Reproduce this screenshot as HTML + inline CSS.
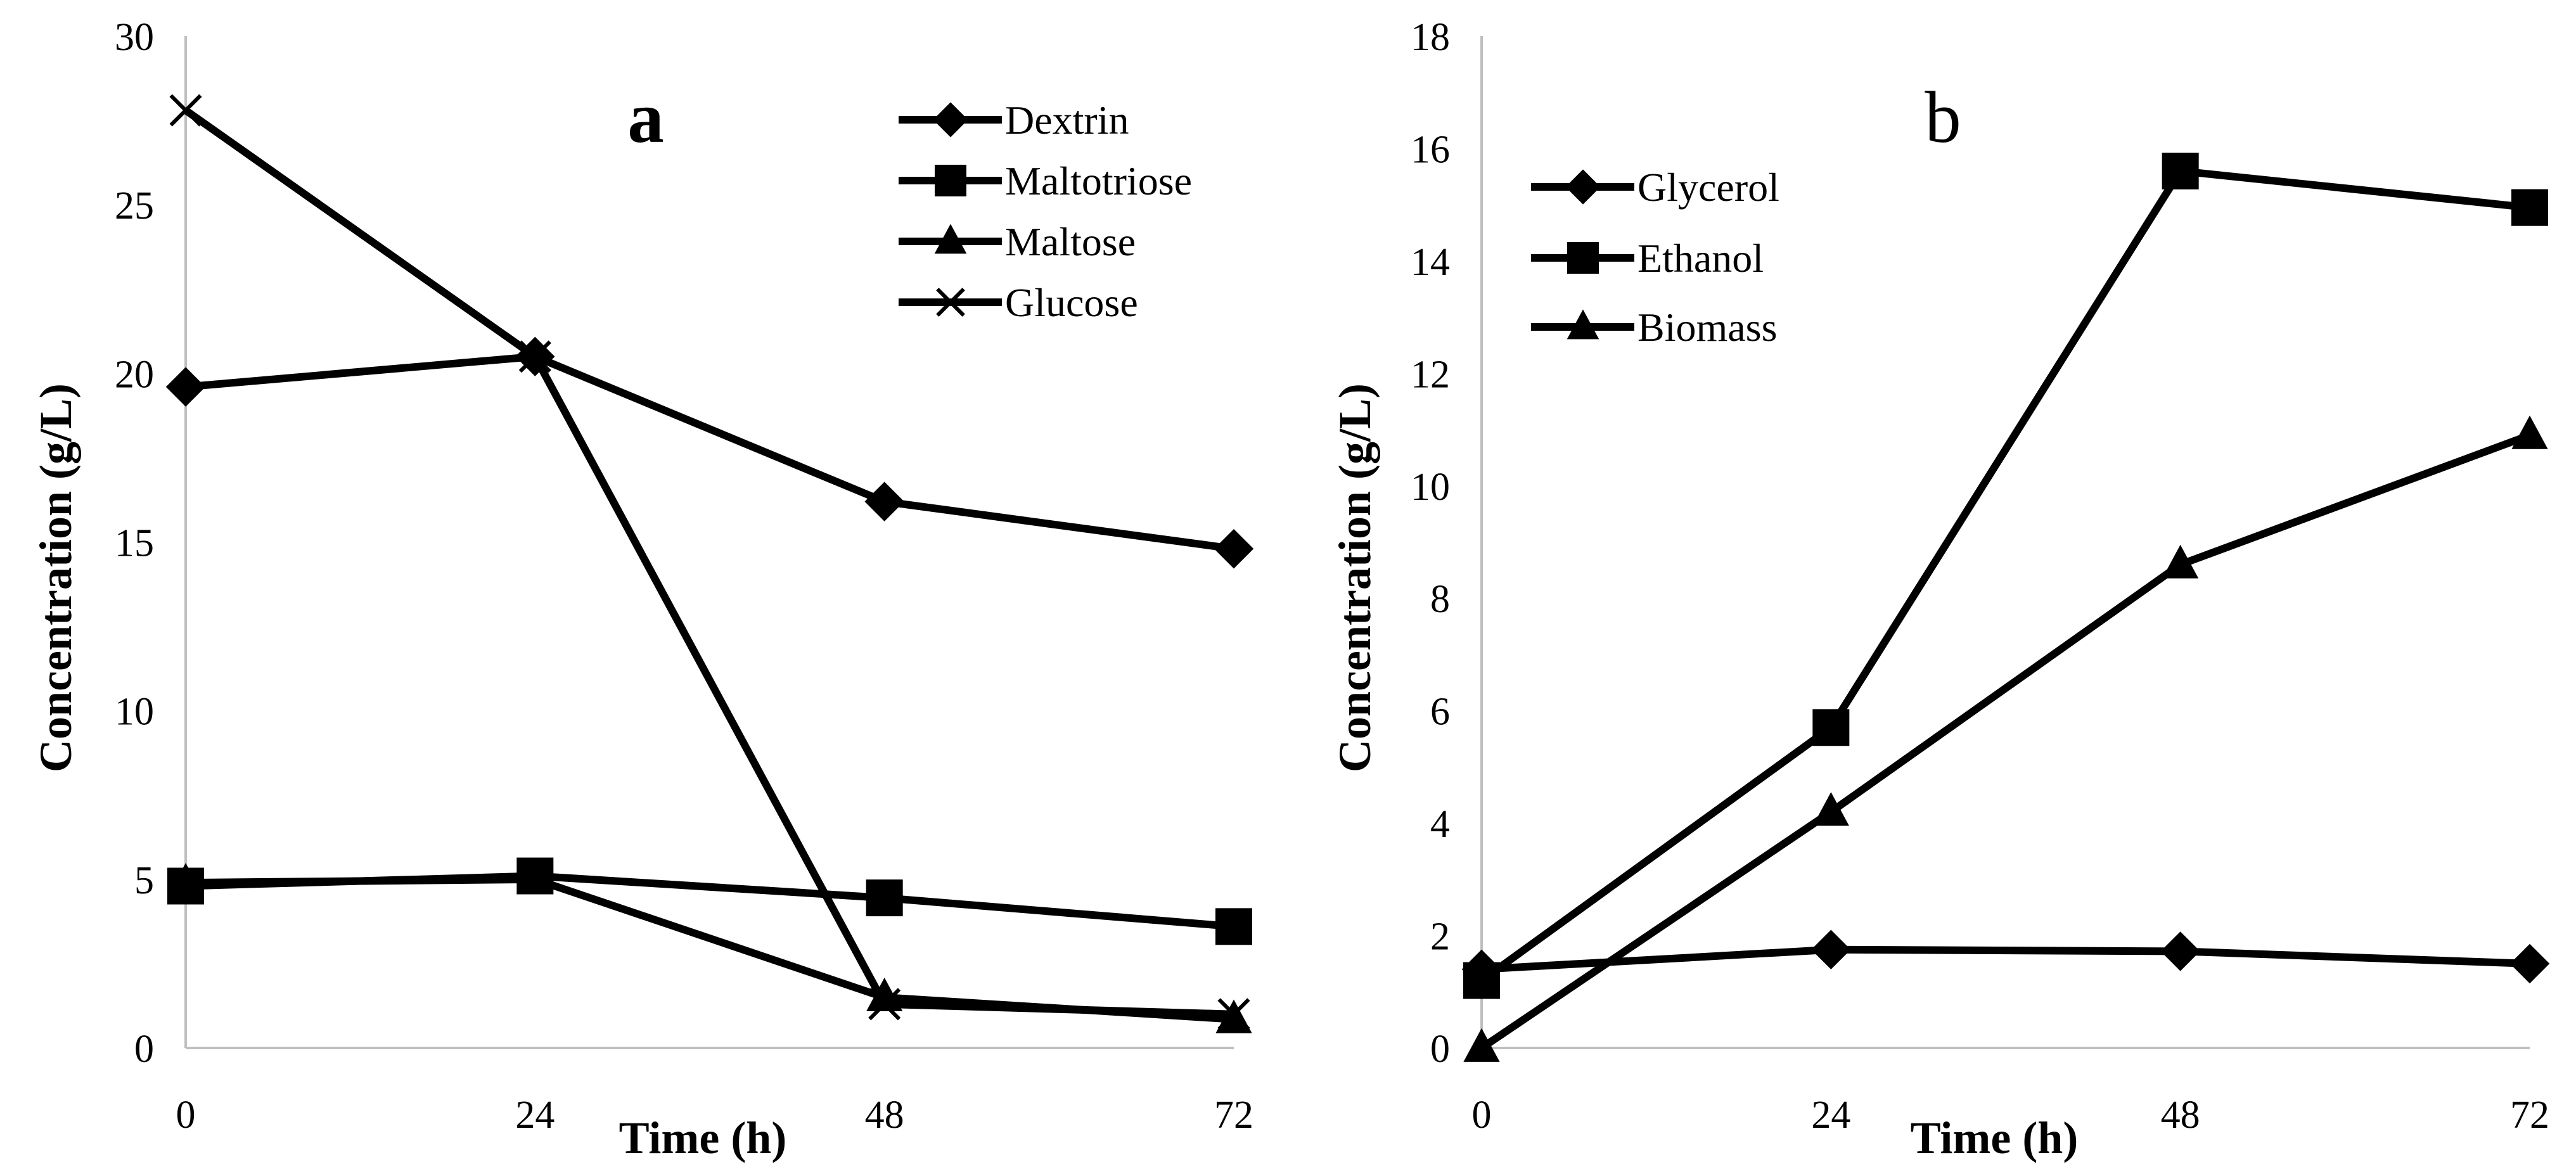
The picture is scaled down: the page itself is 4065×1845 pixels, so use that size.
<!DOCTYPE html>
<html><head><meta charset="utf-8"><style>
html,body{margin:0;padding:0;background:#fff;}
svg{display:block;font-family:"Liberation Serif",serif;}
</style></head><body>
<svg id="chart" width="4065" height="1845" viewBox="0 0 4065 1845"></svg>
<script>
const times = [0, 24, 48, 72];
const xTickLabels = ["0", "24", "48", "72"];
const ticksA = [0, 5, 10, 15, 20, 25, 30];
const ticksB = [0, 2, 4, 6, 8, 10, 12, 14, 16, 18];
const seriesNamesA = ["Dextrin", "Maltotriose", "Maltose", "Glucose"];
const dextrin = [19.6, 20.5, 16.2, 14.8];
const maltotriose = [4.8, 5.1, 4.45, 3.6];
const maltose = [4.9, 5.0, 1.5, 0.85];
const glucose = [27.8, 20.5, 1.3, 1.0];
const seriesNamesB = ["Glycerol", "Ethanol", "Biomass"];
const glycerol = [1.4, 1.75, 1.72, 1.5];
const ethanol = [1.2, 5.7, 15.6, 14.95];
const biomass = [0, 4.2, 8.6, 10.9];

const NS = "http://www.w3.org/2000/svg";
const svg = document.getElementById("chart");
function mk(tag, attrs, parent) {
  const e = document.createElementNS(NS, tag);
  for (const k in attrs) e.setAttribute(k, attrs[k]);
  (parent || svg).appendChild(e);
  return e;
}
function marker(g, type, x, y, s) {
  let m;
  if (type === "diamond") m = mk("polygon", {points: `${x},${y-s*0.6} ${x+s*0.6},${y} ${x},${y+s*0.6} ${x-s*0.6},${y}`, fill: "#000"}, g);
  else if (type === "square") m = mk("rect", {x: x-s*0.5, y: y-s*0.5, width: s, height: s, fill: "#000"}, g);
  else if (type === "triangle") m = mk("polygon", {points: `${x},${y-s*0.6} ${x+s*0.55},${y+s*0.42} ${x-s*0.55},${y+s*0.42}`, fill: "#000"}, g);
  else { m = mk("path", {d: `M${x-s*0.45},${y-s*0.45}L${x+s*0.45},${y+s*0.45}M${x+s*0.45},${y-s*0.45}L${x-s*0.45},${y+s*0.45}`, stroke: "#000", "stroke-width": 6, fill: "none"}, g); }
  return m;
}
function panel(cfg) {
  const g = mk("g", {});
  
  
  const X = v => cfg.x0 + (v - 0) / 72 * (cfg.x1 - cfg.x0);
  const Y = v => cfg.yb - v / cfg.ymax * (cfg.yb - cfg.yt);
  const ya = mk("line", {x1: cfg.x0, y1: cfg.yt, x2: cfg.x0, y2: cfg.yb, stroke: "#bfbfbf", "stroke-width": 4}, g);
  
  
  const xa = mk("line", {x1: cfg.x0, y1: cfg.yb, x2: cfg.x1, y2: cfg.yb, stroke: "#bfbfbf", "stroke-width": 4}, g);
  
  
  cfg.ticks.forEach(t => {
    const tx = mk("text", {x: cfg.x0 - 50, y: Y(t) + 22, "text-anchor": "end", "font-size": 62}, g);
    tx.textContent = t;
    
    
  });
  times.forEach((t, i) => {
    const tx = mk("text", {x: X(t), y: 1780, "text-anchor": "middle", "font-size": 62}, g);
    tx.textContent = xTickLabels[i];
    
    
  });
  const xt = mk("text", {x: cfg.xtX, y: 1820, "text-anchor": "middle", "font-size": 72, "font-weight": "bold"}, g);
  xt.textContent = "Time (h)";
  
  
  const yt = mk("text", {x: 0, y: 0, "text-anchor": "middle", "font-size": 72, "font-weight": "bold", transform: `translate(${cfg.ytX},912) rotate(-90)`}, g);
  yt.textContent = "Concentration (g/L)";
  
  
  const pl = mk("text", {x: cfg.labX, y: 224, "text-anchor": "middle", "font-size": 115, "font-weight": cfg.labW}, g);
  pl.textContent = cfg.label;
  
  
  cfg.series.forEach((s, si) => {
    const sg = mk("g", {}, g);
    
    
    const pts = s.vals.map((v, i) => `${X(times[i])},${Y(v)}`).join(" ");
    const pline = mk("polyline", {points: pts, fill: "none", stroke: "#000", "stroke-width": 12, "stroke-linejoin": "round"}, sg);
    
    
    s.vals.forEach((v, i) => {
      const m = marker(sg, s.m, X(times[i]), Y(v), s.m === "square" ? 58 : 52);
      
      
    });
    const lg = mk("g", {}, g);
    
    
    const ly = cfg.legY[si];
    mk("line", {x1: cfg.legX, y1: ly, x2: cfg.legX + 163, y2: ly, stroke: "#000", "stroke-width": 12}, lg);
    marker(lg, s.m, cfg.legX + 82, ly, s.m === "square" ? 50 : 46);
    const lt = mk("text", {x: cfg.legX + 168, y: ly + 22, "font-size": 64}, lg);
    lt.textContent = s.name;
  });
}
panel({name: "panel-a", x0: 293, x1: 1947, yt: 57, yb: 1654, ymax: 30, ticks: ticksA, xtX: 1109, ytX: 112, labX: 1019, labW: "bold", label: "a",
  legX: 1418, legY: [189, 285, 381, 477],
  series: [{name: seriesNamesA[0], vals: dextrin, m: "diamond"}, {name: seriesNamesA[1], vals: maltotriose, m: "square"}, {name: seriesNamesA[2], vals: maltose, m: "triangle"}, {name: seriesNamesA[3], vals: glucose, m: "x"}]});
panel({name: "panel-b", x0: 2338, x1: 3992, yt: 57, yb: 1654, ymax: 18, ticks: ticksB, xtX: 3147, ytX: 2162, labX: 3066, labW: "normal", label: "b",
  legX: 2416, legY: [295, 407, 516],
  series: [{name: seriesNamesB[0], vals: glycerol, m: "diamond"}, {name: seriesNamesB[1], vals: ethanol, m: "square"}, {name: seriesNamesB[2], vals: biomass, m: "triangle"}]});
</script>
</body></html>
